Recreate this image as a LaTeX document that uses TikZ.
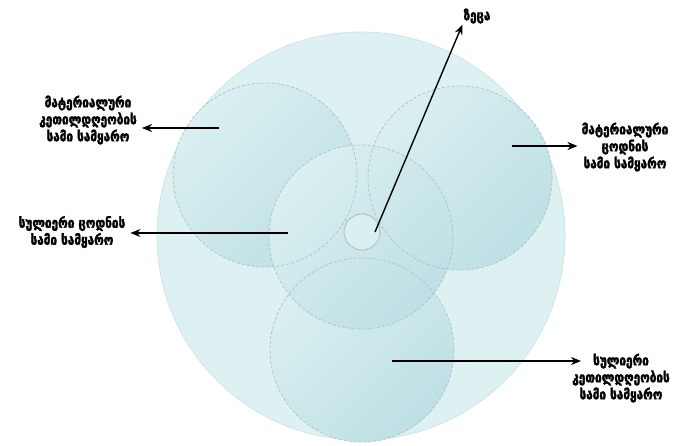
\documentclass[tikz,border=0pt]{standalone}
\usepackage{fontspec}
\setmainfont{DejaVu Sans}
\newfontfamily\geofont[FakeBold=2.5,FakeStretch=0.84]{DejaVu Sans Bold}
\usetikzlibrary{arrows.meta}
\definecolor{skyfill}{HTML}{DEF1F2}
\definecolor{skyrim}{HTML}{D0E4E6}
\definecolor{worldlight}{HTML}{DAEFF1}
\definecolor{worlddark}{HTML}{BEE0E4}
\definecolor{dashgray}{HTML}{B0C5C8}

\begin{document}
\begin{tikzpicture}[x=1pt,y=-1pt,
  world/.style={draw=dashgray,dash pattern=on 3pt off 2pt,line width=0.8pt},
  lbl/.style={font=\geofont\fontsize{14}{17}\selectfont,align=center,inner sep=1pt},
  pointer/.style={-{Stealth[length=10pt,width=8pt]},line width=1.4pt}]
\useasboundingbox (0,0) rectangle (679,446);

% the whole sphere
\fill[skyfill,draw=skyrim,line width=0.8pt] (361,236) circle (204pt);

% three outer worlds, then the middle one
\foreach \cx/\cy in {362/350,265/175,460/178,361/237}
  \shade[top color=worldlight,bottom color=worlddark,shading angle=45] (\cx,\cy) circle (92pt);
\foreach \cx/\cy in {362/350,265/175,460/178,361/237}
  \draw[world] (\cx,\cy) circle (92pt);

% the seed in the centre
\draw[fill=worldlight,draw=gray!75,dash pattern=on 1pt off 1pt,line width=1pt] (362,232) circle (18pt);

% labels
\node[lbl] (heaven) at (477,16) {ზეცა};
\node[lbl] (matwell) at (88,120) {მატერიალური\\კეთილდღეობის\\სამი სამყარო};
\node[lbl] (matknow) at (625,147) {მატერიალური\\ცოდნის\\სამი სამყარო};
\node[lbl] (spiknow) at (72,232) {სულიერი ცოდნის\\სამი სამყარო};
\node[lbl] (spiwell) at (621,378) {სულიერი\\კეთილდღეობის\\სამი სამყარო};

% arrow tails
\coordinate (seed) at (375,232);
\coordinate (t1) at (219,128);
\coordinate (t2) at (512,146);
\coordinate (t3) at (288,233);
\coordinate (t4) at (392,361);
\coordinate (t4tip) at (581,361);

\draw[pointer] (seed) -- (heaven.south west);
\draw[pointer,shorten >=4pt] (t1) -- (t1 -| matwell.east);
\draw[pointer,shorten >=3pt] (t2) -- (t2 -| matknow.west);
\draw[pointer,shorten >=4pt] (t3) -- (t3 -| spiknow.east);
\draw[pointer] (t4) -- (t4tip);
\end{tikzpicture}
\end{document}
